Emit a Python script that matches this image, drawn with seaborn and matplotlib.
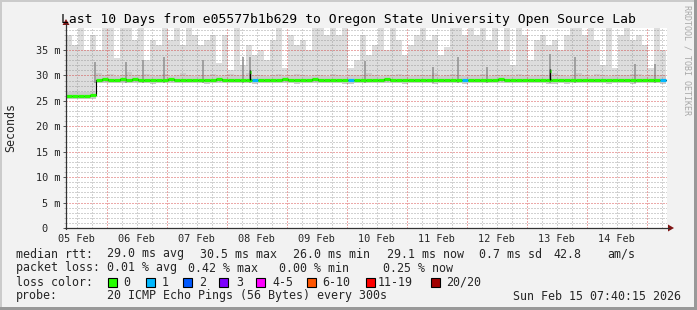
import numpy as np
import pandas as pd
import matplotlib
matplotlib.use("Agg")
import matplotlib.pyplot as plt
import matplotlib.dates as mdates
from matplotlib.patches import Rectangle, Polygon
from matplotlib.lines import Line2D
import seaborn as sns

# ---------------- data ----------------
START = "2026-02-05 07:40:15"
END = "2026-02-15 07:40:15"
N_BINS = 100

smoke_top = [38, 36, 39.3, 35, 38,
             35, 39.3, 39.3, 33.5, 39.3, 39.3, 37, 39.3, 33, 37,
             36, 39.3, 37, 39.3, 36, 39.3, 38, 36, 37, 38,
             32.5, 38, 31, 39.3, 32, 36, 34, 35, 33, 37,
             39.3, 31.5, 38, 36, 37, 35, 39.3, 39.3, 38, 39.3,
             38, 39.3, 31.5, 33, 38, 34, 36, 39.3, 35, 39.3,
             37, 34, 36, 38, 39.3, 37, 38, 34, 35.5, 39.3,
             39.3, 38, 39.3, 38, 39.3, 37, 39.3, 35, 39.3, 32,
             39.3, 38, 33, 37, 38, 36, 37, 35, 38, 39.3,
             39.3, 38, 39.3, 37, 32, 39.3, 31.5, 38, 39.3, 37,
             38, 36, 31.5, 39.3, 35]

smoke_mid = [26.8, 26.9, 26.7, 26.8, 27.0,
             30.4, 30.0, 30.2, 29.9, 30.0, 30.6, 30.1, 30.0, 30.3, 29.9,
             30.0, 30.2, 29.9, 30.0, 30.4, 30.0, 29.9, 30.1, 30.0, 30.3,
             29.9, 30.0, 30.2, 30.0, 29.9, 30.5, 30.0, 30.1, 29.9, 30.0,
             30.2, 29.9, 30.0, 30.3, 30.0, 29.9, 30.1, 30.0, 29.9, 30.2,
             30.0, 29.9, 30.1, 30.0, 30.0, 30.4, 30.0, 29.9, 30.1, 30.0,
             30.2, 30.0, 29.9, 30.0, 30.1, 30.0, 30.4, 29.9, 30.0, 30.2,
             30.0, 29.9, 30.1, 30.0, 30.3, 29.9, 30.0, 30.1, 30.0, 29.9,
             30.2, 30.0, 29.9, 30.0, 30.1, 30.0, 30.5, 30.0, 29.9, 30.1,
             30.4, 30.0, 29.9, 30.2, 30.0, 29.9, 30.1, 30.0, 30.0, 30.2,
             30.3, 29.9, 30.0, 30.1, 30.0]

smoke_low = [25.3, 25.4, 25.3, 25.4, 25.4,
             28.5, 28.6, 28.5, 28.6, 28.5, 28.5, 28.6, 28.5, 28.5, 28.4,
             28.5, 28.6, 28.5, 28.5, 28.5, 28.6, 28.5, 28.5, 28.4, 28.5,
             28.5, 28.6, 28.5, 28.5, 28.5, 28.5, 28.4, 28.5, 28.5, 28.6,
             28.5, 28.5, 28.5, 28.4, 28.5, 28.5, 28.6, 28.5, 28.5, 28.5,
             28.5, 28.4, 28.4, 28.5, 28.5, 28.5, 28.5, 28.6, 28.5, 28.5,
             28.5, 28.4, 28.5, 28.5, 28.5, 28.5, 28.4, 28.5, 28.5, 28.5,
             28.5, 28.4, 28.5, 28.5, 28.5, 28.5, 28.6, 28.5, 28.5, 28.5,
             28.5, 28.5, 28.5, 28.5, 28.5, 28.4, 28.4, 28.5, 28.4, 28.5,
             28.5, 28.5, 28.5, 28.5, 28.5, 28.4, 28.5, 28.5, 28.5, 28.4,
             28.5, 28.5, 28.5, 28.5, 28.4]

median_rtt = [26.0, 26.0, 25.9, 26.0, 26.1,
              29.2, 29.3, 29.2, 29.2, 29.3,
              29.2, 29.3, 29.2, 29.2, 29.1, 29.2, 29.2, 29.3, 29.2, 29.2,
              29.2, 29.1, 29.2, 29.2, 29.2, 29.3, 29.2, 29.2, 29.1, 29.2,
              29.2, 29.1, 29.2, 29.2, 29.2, 29.2, 29.3, 29.2, 29.2, 29.2,
              29.2, 29.3, 29.2, 29.2, 29.2, 29.2, 29.1, 29.1, 29.2, 29.2,
              29.2, 29.2, 29.2, 29.3, 29.2, 29.2, 29.2, 29.1, 29.2, 29.2,
              29.2, 29.2, 29.1, 29.2, 29.2, 29.2, 29.2, 29.1, 29.2, 29.2,
              29.2, 29.2, 29.3, 29.2, 29.2, 29.2, 29.2, 29.2, 29.2, 29.2,
              29.2, 29.1, 29.1, 29.1, 29.1, 29.1, 29.1, 29.2, 29.1, 29.1,
              29.2, 29.1, 29.2, 29.2, 29.2, 29.1, 29.2, 29.2, 29.2, 29.1]

loss_count = [0] * 31 + [1] + [0] * 15 + [1] + [0] * 18 + [1] + [0] * 32 + [1]

spike_times = ["2026-02-05 19:16", "2026-02-06 07:40", "2026-02-06 14:28",
               "2026-02-06 22:52", "2026-02-07 14:28", "2026-02-08 06:40",
               "2026-02-08 09:28", "2026-02-10 07:16", "2026-02-11 10:28",
               "2026-02-11 20:28", "2026-02-12 08:04", "2026-02-13 09:28",
               "2026-02-13 19:28", "2026-02-14 19:16", "2026-02-15 03:16"]
spike_tops = [32.6, 32.6, 33.0, 33.6, 33.0, 33.6, 33.6, 32.9, 31.6,
              33.6, 31.6, 34.2, 33.6, 32.2, 32.2]

median_spike_times = ["2026-02-08 09:28", "2026-02-13 09:28"]
median_spike_vals = [30.6, 30.8]

y_ticks = [0, 5, 10, 15, 20, 25, 30, 35]
y_tick_labels = ["0  ", "5 m", "10 m", "15 m", "20 m", "25 m", "30 m", "35 m"]
day_labels = ["05 Feb", "06 Feb", "07 Feb", "08 Feb", "09 Feb",
              "10 Feb", "11 Feb", "12 Feb", "13 Feb", "14 Feb"]

title = "Last 10 Days from e05577b1b629 to Oregon State University Open Source Lab"
rtt_stats = ["29.0 ms avg", "30.5 ms max", "26.0 ms min", "29.1 ms now", "0.7 ms sd", "42.8", "am/s"]
loss_stats = ["0.01 % avg", "0.42 % max", "0.00 % min", "0.25 % now"]
loss_legend_labels = ["0", "1", "2", "3", "4-5", "6-10", "11-19", "20/20"]
loss_legend_colors = ["#26ff00", "#00b8ff", "#0059ff", "#7e00ff",
                      "#ff00ff", "#ff5500", "#ff0000", "#a10000"]
probe_text = "20 ICMP Echo Pings (56 Bytes) every 300s"
stamp_text = "Sun Feb 15 07:40:15 2026"

# ---------------- figure ----------------
sns.set_theme(style="white")
plt.rcParams["font.family"] = ["DejaVu Sans Mono", "DejaVu Sans"]

W, H = 697, 310
fig = plt.figure(figsize=(W / 100, H / 100), dpi=100)
fig.patch.set_facecolor("#f2f2f2")

def fx(x):
    return x / W

def fy(y):
    return 1 - y / H

# frame (3D shade)
fig.add_artist(Rectangle((0, fy(2)), 1, 2 / H, transform=fig.transFigure, color="#cbcbcb", lw=0))
fig.add_artist(Rectangle((0, 0), 2 / W, 1, transform=fig.transFigure, color="#cbcbcb", lw=0))
fig.add_artist(Rectangle((0, 0), 1, 3 / H, transform=fig.transFigure, color="#999999", lw=0))
fig.add_artist(Rectangle((1 - 3 / W, 0), 3 / W, 1, transform=fig.transFigure, color="#999999", lw=0))

ax = fig.add_axes([fx(66), fy(228), 601 / W, 200 / H])
ax.set_facecolor("white")

edges = mdates.date2num(pd.date_range(START, END, periods=N_BINS + 1).to_pydatetime())
t0 = edges[0]
x_end = t0 + 240.4 / 24.0

def ext(a):
    return np.append(np.asarray(a, float), a[-1])

# smoke
ax.fill_between(edges, ext(smoke_low), ext(smoke_top), step="post", color="#dddddd", lw=0, zorder=1)
ax.fill_between(edges, ext(smoke_low), ext(smoke_mid), step="post", color="#cbcbcb", lw=0, zorder=1.5)

# darker spikes
sp_t = mdates.date2num(pd.to_datetime(spike_times).to_pydatetime())
ax.vlines(sp_t, 28.6, spike_tops, colors="#8f8f8f", lw=1.1, zorder=2)

# grid (drawn on top, translucent, crisp dots)
minor_h = [v for v in range(1, 40) if v % 5 != 0]
major_h = [v for v in y_ticks if v > 0]
gkw = dict(lw=0.72, linestyles=(0, (1.4, 1.4)), zorder=3, antialiased=False)
ax.hlines(minor_h, t0, x_end, colors="#8c8c8c", alpha=0.4, **gkw)
ax.hlines(major_h, t0, x_end, colors="#d02828", alpha=0.4, **gkw)
six_h = pd.date_range("2026-02-05 12:00", "2026-02-15 06:00", freq="6h")
minor_v = mdates.date2num([d.to_pydatetime() for d in six_h if d.hour != 0])
major_v = mdates.date2num([d.to_pydatetime() for d in six_h if d.hour == 0])
ax.vlines(minor_v, 0, 39.33, colors="#8c8c8c", alpha=0.4, **gkw)
ax.vlines(major_v, 0, 39.33, colors="#d02828", alpha=0.4, **gkw)

# median line: black step + colored thick segments
df = pd.DataFrame({"t": edges, "median": ext(median_rtt)})
sns.lineplot(data=df, x="t", y="median", drawstyle="steps-post", color="black", lw=0.8, ax=ax, zorder=4)

def loss_class(n):
    if n <= 3:
        return n
    if n <= 5:
        return 4
    if n <= 10:
        return 5
    if n <= 19:
        return 6
    return 7

seg_colors = [loss_legend_colors[loss_class(n)] for n in loss_count]
ax.hlines(median_rtt, edges[:-1], edges[1:], colors=seg_colors, lw=2.3, zorder=5)

ms_t = mdates.date2num(pd.to_datetime(median_spike_times).to_pydatetime())
ax.vlines(ms_t, 29.2, [v + 0.5 for v in median_spike_vals], colors="black", lw=1.0, zorder=6)
ax.hlines(median_spike_vals, ms_t - 0.01, ms_t + 0.01, colors=loss_legend_colors[0], lw=2.3, zorder=6)

ax.set_xlim(t0, x_end)
ax.set_ylim(0, 39.33)
ax.set_xlabel("")
ax.set_ylabel("")
for s in ax.spines.values():
    s.set_visible(False)

ax.set_yticks(y_ticks)
ax.set_yticklabels(y_tick_labels)
ax.set_yticks(minor_h, minor=True)
noon = mdates.date2num(pd.date_range("2026-02-05 12:00", periods=10, freq="D").to_pydatetime())
ax.set_xticks(noon)
ax.set_xticklabels(day_labels)
ax.tick_params(axis="y", which="major", length=2.5, width=0.7, color="#555555", pad=1.5,
               labelsize=7.4, left=True)
ax.tick_params(axis="y", which="minor", length=1.5, width=0.7, color="#bbbbbb", left=True)
ax.tick_params(axis="x", which="major", length=0, pad=4, labelsize=7.4)
for lab in ax.get_xticklabels() + ax.get_yticklabels():
    lab.set_fontfamily(["DejaVu Sans Mono"])

# axes lines and arrows (figure pixel coordinates)
ax_col = "#333333"
arr_col = "#7f1515"
fig.add_artist(Line2D([fx(66), fx(66)], [fy(229), fy(24)], transform=fig.transFigure, color=ax_col, lw=0.9))
fig.add_artist(Line2D([fx(65), fx(669)], [fy(228), fy(228)], transform=fig.transFigure, color=ax_col, lw=0.9))
fig.add_artist(Polygon([(fx(62.5), fy(25)), (fx(69.5), fy(25)), (fx(66), fy(19))], closed=True,
                       transform=fig.transFigure, color=arr_col, lw=0))
fig.add_artist(Polygon([(fx(668), fy(224.5)), (fx(668), fy(231.5)), (fx(674), fy(228))], closed=True,
                       transform=fig.transFigure, color=arr_col, lw=0))

# texts
fig.text(0.5, fy(19), title, ha="center", va="center", fontsize=9.4, color="black")
fig.text(fx(11), fy(128), "Seconds", rotation=90, ha="center", va="center", fontsize=8.4)
fig.text(fx(687), fy(60), "RRDTOOL / TOBI OETIKER", rotation=270, ha="center", va="center",
         fontsize=6.0, color="#a8a8a8")

LF = 8.4
rows_y = [254, 268, 282, 296]
fig.text(fx(16), fy(rows_y[0]), "median rtt:", ha="left", va="center", fontsize=LF)
for xp, s in zip([107, 200, 293, 386.5, 479, 553, 607], rtt_stats):
    fig.text(fx(xp), fy(rows_y[0]), s, ha="left", va="center", fontsize=LF)

fig.text(fx(16), fy(rows_y[1]), "packet loss:", ha="left", va="center", fontsize=LF)
for xp, s in zip([107, 188, 279, 383], loss_stats):
    fig.text(fx(xp), fy(rows_y[1]), s, ha="left", va="center", fontsize=LF)

fig.text(fx(16), fy(rows_y[2]), "loss color:", ha="left", va="center", fontsize=LF)
sq_x = [108, 146, 183, 219, 256, 307, 366, 431]
lab_x = [123, 162, 199, 236, 272, 322, 378, 446]
for sx, lx, lab, col in zip(sq_x, lab_x, loss_legend_labels, loss_legend_colors):
    fig.add_artist(Rectangle((fx(sx), fy(rows_y[2] + 4.5)), 8.5 / W, 8.5 / H, transform=fig.transFigure,
                             facecolor=col, edgecolor="black", lw=0.8))
    fig.text(fx(lx), fy(rows_y[2]), lab, ha="left", va="center", fontsize=LF)

fig.text(fx(16), fy(rows_y[3]), "probe:", ha="left", va="center", fontsize=LF)
fig.text(fx(107), fy(rows_y[3]), probe_text, ha="left", va="center", fontsize=LF)
fig.text(fx(681), fy(rows_y[3]), stamp_text, ha="right", va="center", fontsize=LF)

fig.savefig("out.png", dpi=100, facecolor=fig.get_facecolor())
